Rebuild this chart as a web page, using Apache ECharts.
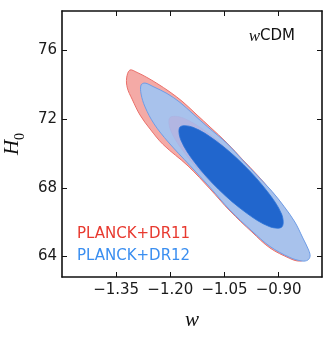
<!DOCTYPE html>
<html>
<head>
<meta charset="utf-8">
<script src="https://cdn.jsdelivr.net/npm/echarts@6/dist/echarts.min.js"></script>
<style>
  html, body { margin: 0; padding: 0; background: #fff; }
  #chart { width: 333px; height: 341px; }
</style>
</head>
<body>
<div id="chart"></div>
<script>
// tick labels
var wTicks = [-1.35, -1.20, -1.05, -0.90];
var h0Ticks = [64, 68, 72, 76];

// contours, [w, H0] vertices
var dr11Outer = [
  [-1.312, 74.86], [-1.292, 74.72], [-1.265, 74.43], [-1.237, 74.08], [-1.201, 73.58],
  [-1.165, 73.00], [-1.126, 72.24], [-1.090, 71.54], [-1.043, 70.61], [-0.999, 69.62],
  [-0.957, 68.69], [-0.921, 67.81], [-0.888, 66.94], [-0.860, 66.00], [-0.838, 65.07],
  [-0.824, 64.37], [-0.822, 64.02], [-0.830, 63.79], [-0.846, 63.73], [-0.869, 63.88],
  [-0.924, 64.49], [-0.974, 65.42], [-1.035, 66.65], [-1.090, 67.93], [-1.151, 69.27],
  [-1.220, 70.52], [-1.256, 71.42], [-1.284, 72.24], [-1.306, 73.17], [-1.319, 73.81],
  [-1.321, 74.40]
];
var dr12Outer = [
  [-1.281, 73.99], [-1.270, 74.10], [-1.248, 73.90], [-1.209, 73.49], [-1.173, 72.97],
  [-1.137, 72.30], [-1.098, 71.57], [-1.043, 70.58], [-0.999, 69.59], [-0.957, 68.66],
  [-0.918, 67.78], [-0.885, 66.91], [-0.855, 66.00], [-0.833, 65.07], [-0.817, 64.37],
  [-0.813, 64.02], [-0.819, 63.79], [-0.835, 63.73], [-0.869, 63.94], [-0.924, 64.58],
  [-0.974, 65.48], [-1.035, 66.70], [-1.090, 68.02], [-1.146, 69.30], [-1.206, 70.67],
  [-1.245, 71.72], [-1.270, 72.71], [-1.281, 73.46]
];
var dr11Inner = [
  [-0.919, 66.27], [-0.954, 66.29], [-1.018, 67.09], [-1.094, 68.45], [-1.160, 70.01],
  [-1.199, 71.34], [-1.201, 72.09], [-1.165, 72.07], [-1.101, 71.27], [-1.026, 69.91],
  [-0.960, 68.35], [-0.920, 67.02]
];
var dr12Inner = [
  [-0.891, 65.72], [-0.926, 65.74], [-0.990, 66.54], [-1.066, 67.90], [-1.132, 69.46],
  [-1.171, 70.79], [-1.173, 71.54], [-1.137, 71.52], [-1.073, 70.72], [-0.998, 69.36],
  [-0.932, 67.80], [-0.892, 66.47]
];

var myChart = echarts.init(document.getElementById('chart'), null, { renderer: 'canvas' });

function contour (points, fill, stroke, lw) {
  return function (params, api) {
    if (params.dataIndex !== 0) return;
    return {
      type: 'polygon',
      shape: { points: points.map(function (p) { return api.coord(p); }), smooth: 0.35 },
      style: { fill: fill, stroke: stroke, lineWidth: lw }
    };
  };
}

function fmtW (v) {
  return (v < 0 ? '\u2212' : '') + Math.abs(v).toFixed(2);
}

var frame = { show: true, onZero: false, lineStyle: { color: '#111', width: 1.6 } };
var ticks = { show: true, inside: true, length: 5, lineStyle: { color: '#111', width: 1 } };
var tickFont = { fontFamily: 'DejaVu Sans', fontSize: 15, color: '#1a1a1a' };
var legendFont = { fontFamily: 'DejaVu Sans', fontSize: 15, fontWeight: 'normal' };

myChart.setOption({
  animation: false,
  title: [
    {
      text: '{i|w}CDM', right: 38, top: 28, padding: 0,
      textStyle: {
        fontFamily: 'DejaVu Sans', fontSize: 15, fontWeight: 'normal', color: '#111',
        rich: { i: { fontFamily: 'Liberation Serif', fontStyle: 'italic', fontSize: 17, color: '#111' } }
      }
    },
    { text: 'PLANCK+DR11', left: 77, top: 227, padding: 0, textStyle: Object.assign({ color: '#e8392f' }, legendFont) },
    { text: 'PLANCK+DR12', left: 77, top: 249, padding: 0, textStyle: Object.assign({ color: '#3a8ef0' }, legendFont) }
  ],
  grid: { left: 62, right: 11, top: 11, bottom: 64, outerBoundsMode: 'none' },
  xAxis: [
    {
      type: 'value', min: -1.5, max: -0.78, position: 'bottom',
      name: 'w', nameLocation: 'middle', nameGap: 33,
      nameTextStyle: { fontFamily: 'Liberation Serif', fontStyle: 'italic', fontSize: 21, color: '#111' },
      axisLine: frame, splitLine: { show: false },
      axisTick: Object.assign({ customValues: wTicks }, ticks),
      axisLabel: Object.assign({ customValues: wTicks, margin: 6, formatter: fmtW }, tickFont)
    },
    {
      type: 'value', min: -1.5, max: -0.78, position: 'top',
      axisLine: frame, splitLine: { show: false },
      axisTick: Object.assign({ customValues: wTicks }, ticks),
      axisLabel: { show: false }
    }
  ],
  yAxis: [
    {
      type: 'value', min: 62.8, max: 78.3, position: 'left',
      name: '{h|H}{s|0}', nameLocation: 'middle', nameGap: 34, nameRotate: 90,
      nameTextStyle: {
        rich: {
          h: { fontFamily: 'Liberation Serif', fontStyle: 'italic', fontSize: 21, color: '#111', verticalAlign: 'bottom' },
          s: { fontFamily: 'Liberation Serif', fontSize: 14, color: '#111', verticalAlign: 'bottom', padding: [0, 0, -4, 0] }
        }
      },
      axisLine: frame, splitLine: { show: false },
      axisTick: Object.assign({ customValues: h0Ticks }, ticks),
      axisLabel: Object.assign({ customValues: h0Ticks, margin: 5 }, tickFont)
    },
    {
      type: 'value', min: 62.8, max: 78.3, position: 'right',
      axisLine: frame, splitLine: { show: false },
      axisTick: Object.assign({ customValues: h0Ticks }, ticks),
      axisLabel: { show: false }
    }
  ],
  series: [
    { name: 'PLANCK+DR11 95%', type: 'custom', silent: true, data: dr11Outer, encode: { x: 0, y: 1 },
      renderItem: contour(dr11Outer, '#f4aaa6', '#ea6f69', 1) },
    { name: 'PLANCK+DR12 95%', type: 'custom', silent: true, data: dr12Outer, encode: { x: 0, y: 1 },
      renderItem: contour(dr12Outer, '#a8c2ec', '#6f9de6', 1) },
    { name: 'PLANCK+DR11 68%', type: 'custom', silent: true, data: dr11Inner, encode: { x: 0, y: 1 },
      renderItem: contour(dr11Inner, '#b2b6e2', '#aab0e0', 0.5) },
    { name: 'PLANCK+DR12 68%', type: 'custom', silent: true, data: dr12Inner, encode: { x: 0, y: 1 },
      renderItem: contour(dr12Inner, '#2166cd', '#2a72d8', 0.8) }
  ]
});
</script>
</body>
</html>
